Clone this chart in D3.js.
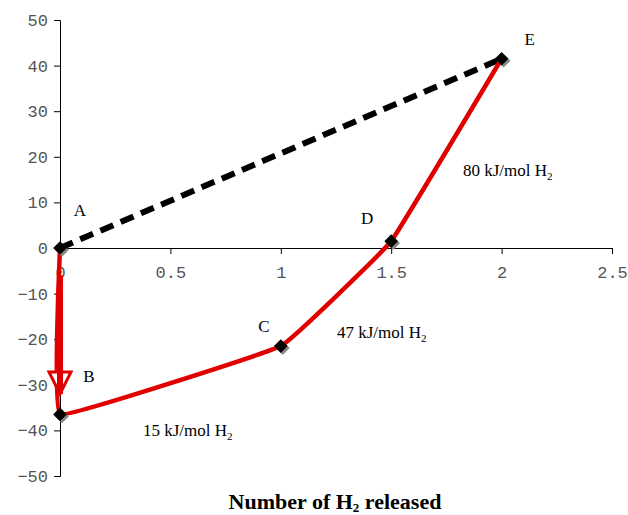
<!DOCTYPE html>
<html>
<head>
<meta charset="utf-8">
<script src="https://cdn.jsdelivr.net/npm/d3@7"></script>
<style>
  body { margin: 0; background: #fff; }
  .tick text { font-family: "Liberation Mono", "DejaVu Sans Mono", monospace; font-size: 17px; fill: #555; }
  .lbl { font-family: "Liberation Serif", "Times New Roman", serif; font-size: 17px; fill: #000; }
</style>
</head>
<body>
<div id="chart"></div>
<script>
// points along the H2 release path
var pointNames = ["A", "B", "C", "D", "E"];
var hReleased = [0, 0, 1, 1.5, 2];
var energy = [0, -36.5, -21.5, 1.5, 41.5];

// direct route A -> E (dashed)
var directX = [0, 2];
var directY = [0, 41.5];

// arrow from A down to B
var arrowY = [-6, -32];

// enthalpy notes for each step
var stepNotes = ["15 kJ/mol H", "47 kJ/mol H", "80 kJ/mol H"];

var xTicks = [0, 0.5, 1, 1.5, 2, 2.5];
var yTicks = [-50, -40, -30, -20, -10, 0, 10, 20, 30, 40, 50];

var width = 628, height = 515;

var x = d3.scaleLinear().domain([0, 2.5]).range([60, 612]);
var y = d3.scaleLinear().domain([-50, 50]).range([476, 20]);

var svg = d3.select("#chart")
  .append("svg")
    .attr("width", width)
    .attr("height", height);

// y axis
svg.append("g")
  .attr("transform", "translate(" + x(0) + ",0)")
  .call(d3.axisLeft(y).tickValues(yTicks).tickSize(6).tickPadding(6).tickFormat(d3.format("d")))
  .call(function(g) { g.select(".domain").attr("stroke", "#000"); });

// x axis sits on y = 0
svg.append("g")
  .attr("transform", "translate(0," + y(0) + ")")
  .call(d3.axisBottom(x).tickValues(xTicks).tickSize(6).tickPadding(12).tickFormat(d3.format("")))
  .call(function(g) { g.select(".domain").attr("stroke", "#000"); });

var pts = hReleased.map(function(d, i) { return {x: d, y: energy[i], name: pointNames[i]}; });

// dashed direct line
svg.append("path")
  .datum(directX.map(function(d, i) { return [d, directY[i]]; }))
  .attr("fill", "none")
  .attr("stroke", "#000")
  .attr("stroke-width", 6)
  .attr("stroke-dasharray", "14,8")
  .attr("d", d3.line().x(function(d) { return x(d[0]); }).y(function(d) { return y(d[1]); }));

// red stepwise path (lightly smoothed)
svg.append("path")
  .datum(pts)
  .attr("fill", "none")
  .attr("stroke", "#e00000")
  .attr("stroke-width", 4.5)
  .attr("d", d3.line()
    .curve(d3.curveCardinal.tension(0.8))
    .x(function(d) { return x(d.x); })
    .y(function(d) { return y(d.y); }));

// arrow A -> B
var ax = x(0);
svg.append("path")
  .attr("d", "M" + (ax - 11) + "," + y(-27.2) + "L" + (ax + 11) + "," + y(-27.2) + "L" + ax + "," + y(arrowY[1]) + "Z")
  .attr("fill", "#fff")
  .attr("stroke", "#e00000")
  .attr("stroke-width", 3)
  .attr("stroke-linejoin", "miter");
svg.append("line")
  .attr("x1", ax).attr("x2", ax)
  .attr("y1", y(arrowY[0])).attr("y2", y(arrowY[1]))
  .attr("stroke", "#e00000")
  .attr("stroke-width", 6);

// diamond markers with a grey shadow
var diamond = d3.symbol().type(d3.symbolDiamond2).size(120);
svg.selectAll(".shadow")
  .data(pts)
  .enter().append("path")
    .attr("class", "shadow")
    .attr("d", diamond)
    .attr("fill", "#888")
    .attr("transform", function(d) { return "translate(" + (x(d.x) + 2) + "," + (y(d.y) + 2) + ")"; });
svg.selectAll(".marker")
  .data(pts)
  .enter().append("path")
    .attr("class", "marker")
    .attr("d", diamond)
    .attr("fill", "#000")
    .attr("transform", function(d) { return "translate(" + x(d.x) + "," + y(d.y) + ")"; });

// point letters
var letterOffset = {A: [20, -32], B: [29, -32], C: [-17, -14], D: [-24, -17], E: [28, -14]};
svg.selectAll(".name")
  .data(pts)
  .enter().append("text")
    .attr("class", "lbl")
    .attr("x", function(d) { return x(d.x) + letterOffset[d.name][0]; })
    .attr("y", function(d) { return y(d.y) + letterOffset[d.name][1]; })
    .attr("text-anchor", "middle")
    .text(function(d) { return d.name; });

// step enthalpy notes, placed next to each segment
var notePos = [[143, 436], [337, 338], [463, 176]];
stepNotes.forEach(function(s, i) {
  var t = svg.append("text")
    .attr("class", "lbl")
    .attr("x", notePos[i][0])
    .attr("y", notePos[i][1]);
  t.append("tspan").text(s);
  t.append("tspan").attr("font-size", "11px").attr("dy", 4).text("2");
});

// axis title
var title = svg.append("text")
  .attr("x", 335)
  .attr("y", 509)
  .attr("text-anchor", "middle")
  .attr("font-family", "Liberation Serif, Times New Roman, serif")
  .attr("font-weight", "bold")
  .attr("font-size", "22px");
title.append("tspan").text("Number of H");
title.append("tspan").attr("font-size", "13px").attr("dy", 3).text("2");
title.append("tspan").attr("dy", -3).text(" released");
</script>
</body>
</html>
